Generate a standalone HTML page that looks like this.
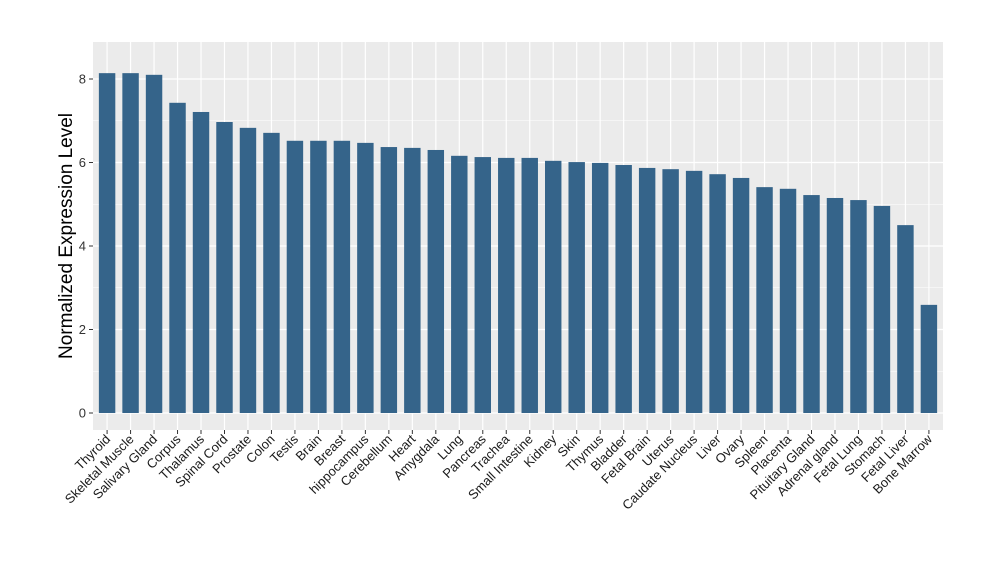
<!DOCTYPE html>
<html><head><meta charset="utf-8"><style>
body{margin:0;background:#fff;font-family:"Liberation Sans",Arial,sans-serif}
</style></head><body>
<svg id="c" width="1000" height="580" xmlns="http://www.w3.org/2000/svg"></svg>
<script>
const categories=["Thyroid","Skeletal Muscle","Salivary Gland","Corpus","Thalamus","Spinal Cord","Prostate","Colon","Testis","Brain","Breast","hippocampus","Cerebellum","Heart","Amygdala","Lung","Pancreas","Trachea","Small Intestine","Kidney","Skin","Thymus","Bladder","Fetal Brain","Uterus","Caudate Nucleus","Liver","Ovary","Spleen","Placenta","Pituitary Gland","Adrenal gland","Fetal Lung","Stomach","Fetal Liver","Bone Marrow"];
const values=[8.14,8.14,8.1,7.43,7.21,6.97,6.83,6.71,6.52,6.52,6.52,6.47,6.37,6.35,6.3,6.16,6.13,6.11,6.11,6.04,6.01,5.99,5.94,5.87,5.84,5.8,5.72,5.63,5.41,5.37,5.22,5.15,5.1,4.96,4.5,2.59];
const yTicks=[0,2,4,6,8];
const svg=document.getElementById('c');const NS="http://www.w3.org/2000/svg";
const L=93,R=943,T=42,B=430;
const y=v=>413-v*41.75;
const band=(R-L)/(categories.length+0.2);
const x=i=>L+band*(0.6+i);
function mk(t,a,p){const e=document.createElementNS(NS,t);for(const k in a)e.setAttribute(k,a[k]);(p||svg).appendChild(e);return e;}
const panel=mk('rect',{x:L,y:T,width:R-L,height:B-T,fill:'#ebebeb'});


for(let i=0;i<yTicks.length-1;i++){const v=(yTicks[i]+yTicks[i+1])/2;mk('line',{x1:L,x2:R,y1:y(v),y2:y(v),stroke:'#fff','stroke-width':0.6});}
yTicks.forEach(v=>{mk('line',{x1:L,x2:R,y1:y(v),y2:y(v),stroke:'#fff','stroke-width':1.2});
mk('line',{x1:L-4,x2:L,y1:y(v),y2:y(v),stroke:'#333'});
const t=mk('text',{x:L-7,y:y(v)+4.5,'text-anchor':'end','font-size':13,fill:'#333'});t.textContent=v;

});
categories.forEach((c,i)=>{mk('line',{x1:x(i),x2:x(i),y1:T,y2:B,stroke:'#fff','stroke-width':1.2});});
const bw=band*0.7;
categories.forEach((c,i)=>{
const r=mk('rect',{x:x(i)-bw/2,y:y(values[i]),width:bw,height:y(0)-y(values[i]),fill:'#35648a'});


mk('line',{x1:x(i),x2:x(i),y1:B,y2:B+4,stroke:'#333'});
const t=mk('text',{transform:`translate(${x(i)+4},${B+10}) rotate(-45)`,'text-anchor':'end','font-size':13,fill:'#1a1a1a'});t.textContent=c;


});
const yt=mk('text',{transform:`translate(72,${(T+B)/2}) rotate(-90)`,'text-anchor':'middle','font-size':19,fill:'#000'});yt.textContent='Normalized Expression Level';


</script>
</body></html>
